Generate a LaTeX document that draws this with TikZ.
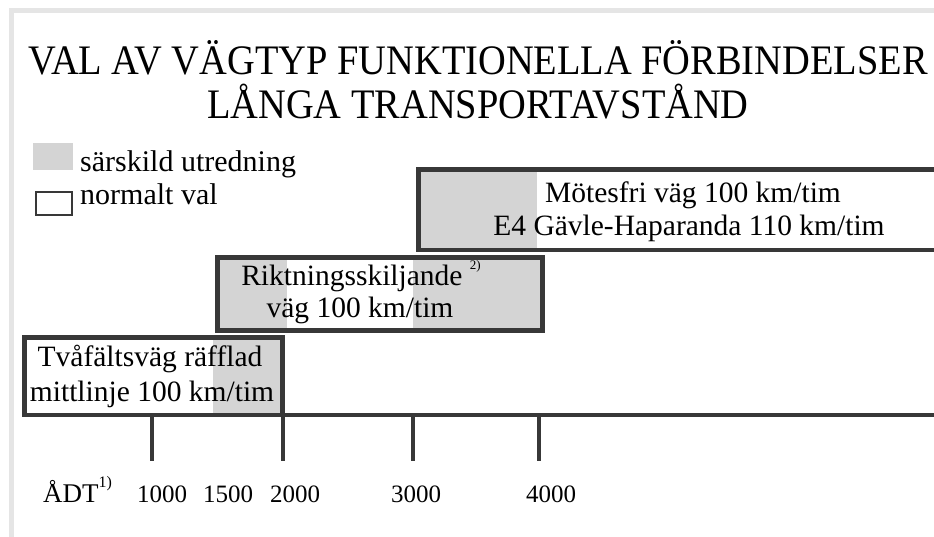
\documentclass[tikz,border=0pt]{standalone}
\usepackage{fontspec}
\setmainfont{Liberation Serif}
\usepackage{tikz}
\usetikzlibrary{calc}
\colorlet{dgray}{black!78}
\colorlet{lgray}{black!17}
\colorlet{framegray}{black!10}
\newcommand\sz[1]{\fontsize{#1}{#1}\selectfont}
\newcommand\note[2][13]{\raisebox{.55em}{\sz{#1}#2}}
\newcommand\narrow[1]{\scalebox{0.915}[1]{#1}}
\tikzstyle{vbox}=[draw=dgray,line width=4.5pt]
\tikzstyle{tick}=[draw=dgray,line width=4.5pt]
\tikzstyle{special}=[fill=lgray]
\tikzstyle{heading}=[inner sep=0pt,anchor=base,font=\sz{42}]
\tikzstyle{lbl}=[inner sep=0pt,anchor=base,font=\sz{29.5}]
\tikzstyle{leg}=[inner sep=0pt,anchor=base west,font=\sz{30}]
\tikzstyle{axis}=[inner sep=0pt,anchor=base,font=\sz{25}]

\begin{document}
\begin{tikzpicture}[x=1pt,y=-1pt]
	\useasboundingbox (0,0) rectangle (934,537);
	\draw[framegray,line width=5pt] (11.5,537) |- (934,10.5);
	\node[heading] (title1) at (478,75) {\narrow{VAL AV VÄGTYP FUNKTIONELLA FÖRBINDELSER}};
	\node[heading] (title2) at (478,119) {\narrow{LÅNGA TRANSPORTAVSTÅND}};
	% legend
	\fill[lgray] (33,143) rectangle (73,170);
	\draw[dgray,line width=2pt] (36,192) rectangle (72,215);
	\node[leg] (leg1) at (80,172) {särskild utredning};
	\node[leg] (leg2) at (80,205) {normalt val};
	% grey parts
	\fill[special] (213,337) rectangle (282,415);
	\fill[special] (217,257) rectangle (287,331);
	\fill[special] (413,257) rectangle (542,331);
	\fill[special] (418,169) rectangle (537,250);
	% boxes
	\draw[vbox] (934,169.5) -| (418.5,250) -- (934,250);
	\draw[vbox] (217.5,257.5) rectangle (542.5,330.5);
	\draw[vbox] (24.5,337.5) rectangle (282.5,415);
	\draw[vbox] (282.5,415) -- (934,415);
	\node[lbl] (typ3a) at (693,203) {Mötesfri väg 100 km/tim};
	\node[lbl] (typ3b) at (689,236) {E4 Gävle-Haparanda 110 km/tim};
	\node[lbl] (typ2a) at (361,286) {Riktningsskiljande \note{2)}};
	\node[lbl] (typ2b) at (360,317) {väg 100 km/tim};
	\node[lbl] (typ1a) at (150,366) {Tvåfältsväg räfflad};
	\node[lbl] (typ1b) at (152,401) {mittlinje 100 km/tim};
	% axis
	\foreach \t in {152,283,413,539}
		\draw[tick] (\t,415) -- (\t,461);
	\node[inner sep=0pt,anchor=base west,font=\sz{27}] (adt) at (43,502) {ÅDT\note[16]{1)}};
	\foreach \v/\p in {1000/162,1500/228,2000/295,3000/416,4000/551}
		\node[axis] (n\v) at (\p,502) {\v};
\end{tikzpicture}
\end{document}
